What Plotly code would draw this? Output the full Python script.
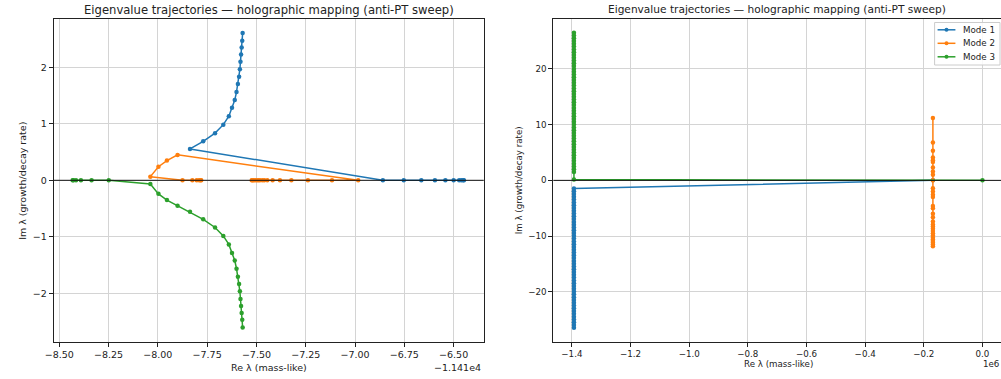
import plotly.graph_objects as go

# ---------------- data: left panel (Re shown relative to offset -1.141e4) ----------------
RE_OFFSET = -11410.0

mode1_re_left = [-6.448, -6.452, -6.461, -6.472, -6.500, -6.542, -6.595, -6.664, -6.753, -6.859,
                 -7.837, -7.770, -7.710, -7.668, -7.640, -7.624, -7.610, -7.601, -7.594, -7.588,
                 -7.584, -7.581, -7.578, -7.575, -7.572, -7.570]
mode1_im_left = [0, 0, 0, 0, 0, 0, 0, 0, 0, 0,
                 0.555, 0.69, 0.835, 0.985, 1.135, 1.285, 1.42, 1.565, 1.705, 1.835,
                 1.965, 2.10, 2.225, 2.35, 2.47, 2.605]

mode2_re_left = [-7.780, -7.784, -7.791, -7.803, -7.825, -7.875,
                 -8.038, -7.997, -7.954, -7.900,
                 -6.984, -7.117, -7.239, -7.323, -7.381, -7.418, -7.445, -7.460, -7.470, -7.482,
                 -7.490, -7.498, -7.507, -7.515, -7.520, -7.524]
mode2_im_left = [0, 0, 0, 0, 0, 0,
                 0.065, 0.24, 0.35, 0.45,
                 0, 0, 0, 0, 0, 0, 0, 0, 0, 0,
                 0, 0, 0, 0, 0, 0]

mode3_re_left = [-8.432, -8.428, -8.415, -8.390, -8.336, -8.249,
                 -8.038, -7.997, -7.954, -7.900,
                 -7.837, -7.770, -7.710, -7.668, -7.640, -7.624, -7.610, -7.601, -7.594, -7.588,
                 -7.584, -7.581, -7.578, -7.575, -7.572, -7.570]
mode3_im_left = [0, 0, 0, 0, 0, 0,
                 -0.065, -0.24, -0.35, -0.45,
                 -0.555, -0.69, -0.835, -0.985, -1.135, -1.285, -1.42, -1.565, -1.705, -1.835,
                 -1.965, -2.10, -2.225, -2.35, -2.47, -2.605]

left_xticks = [-8.50, -8.25, -8.00, -7.75, -7.50, -7.25, -7.00, -6.75, -6.50]
left_yticks = [-2, -1, 0, 1, 2]

# ---------------- data: right panel ----------------
mode1_re_right = [-0.169e6] + [-1.393e6] * 51
mode1_im_right = [0.0,
                  -1.45, -1.95, -2.45, -2.95, -3.45, -3.95, -4.45, -4.95, -5.45, -5.95,
                  -6.45, -6.95, -7.45, -7.95, -8.45, -8.95, -9.45, -9.95, -10.45, -10.95,
                  -11.45, -11.95, -12.45, -12.95, -13.45, -13.95, -14.45, -14.95, -15.45, -15.95,
                  -16.45, -16.95, -17.45, -17.95, -18.45, -18.95, -19.45, -19.95, -20.45, -20.95,
                  -21.45, -21.95, -22.45, -22.95, -23.45, -23.95, -24.45, -24.95, -25.45, -25.95,
                  -26.45]

mode2_re_right = [-0.169e6] * 31
mode2_im_right = [11.2, 6.8, 5.3, 4.1, 3.6, 3.3, 2.3, 1.6, 1.0, 0.0,
                  -1.4, -2.0, -2.6, -3.0, -4.6, -5.0, -6.0, -6.6, -7.4, -7.9,
                  -8.3, -8.7, -9.1, -9.5, -9.9, -10.3, -10.6, -10.9, -11.2, -11.5, -11.8]

mode3_re_right = [0.0, -1.393e6] + [-1.393e6] * 51
mode3_im_right = [0.0, 0.15,
                  1.5, 2.0, 2.5, 3.0, 3.5, 4.0, 4.5, 5.0, 5.5, 6.0,
                  6.5, 7.0, 7.5, 8.0, 8.5, 9.0, 9.5, 10.0, 10.5, 11.0,
                  11.5, 12.0, 12.5, 13.0, 13.5, 14.0, 14.5, 15.0, 15.5, 16.0,
                  16.5, 17.0, 17.5, 18.0, 18.5, 19.0, 19.5, 20.0, 20.5, 21.0,
                  21.5, 22.0, 22.5, 23.0, 23.5, 24.0, 24.5, 25.0, 25.5, 26.0,
                  26.5]

right_xticks = [-1.4e6, -1.2e6, -1.0e6, -0.8e6, -0.6e6, -0.4e6, -0.2e6, 0.0]
right_yticks = [-20, -10, 0, 10, 20]

mode_names = ["Mode 1", "Mode 2", "Mode 3"]
colors = ["#1f77b4", "#ff7f0e", "#2ca02c"]

# ---------------- figure ----------------
W, H = 1001, 379
FONT = "DejaVu Sans"


def px_x(p):
    return p / W


def px_y(p):
    return 1 - p / H


def fmt(v, nd):
    s = f"{abs(v):.{nd}f}"
    return ("\u2212" + s) if v < 0 else s


fig = go.Figure()

left_sets = [(mode1_re_left, mode1_im_left), (mode2_re_left, mode2_im_left), (mode3_re_left, mode3_im_left)]
for (re, im), c, nm in zip(left_sets, colors, mode_names):
    fig.add_trace(go.Scatter(x=[RE_OFFSET + v for v in re], y=im, mode="lines+markers",
                             line=dict(color=c, width=1.5), marker=dict(color=c, size=4.5),
                             name=nm, showlegend=False, xaxis="x", yaxis="y"))

right_sets = [(mode1_re_right, mode1_im_right), (mode2_re_right, mode2_im_right), (mode3_re_right, mode3_im_right)]
for (re, im), c, nm in zip(right_sets, colors, mode_names):
    fig.add_trace(go.Scatter(x=re, y=im, mode="lines+markers",
                             line=dict(color=c, width=1.5), marker=dict(color=c, size=4.5),
                             name=nm, showlegend=False, xaxis="x2", yaxis="y2"))

dom_y = [px_y(342), px_y(19)]
grid_c = "#d4d4d4"
axis_common = dict(showgrid=True, gridcolor=grid_c, gridwidth=1, zeroline=False,
                   showline=True, linecolor="#222", linewidth=1,
                   ticks="outside", ticklen=4, tickcolor="#222", tickwidth=1)

fig.update_layout(
    width=W, height=H, margin=dict(l=0, r=0, t=0, b=0),
    paper_bgcolor="white", plot_bgcolor="white", showlegend=False,
    font=dict(family=FONT, color="#222"),
    xaxis=dict(domain=[px_x(45), px_x(479)], anchor="y",
               range=[RE_OFFSET - 8.5286, RE_OFFSET - 6.3477],
               tickvals=[RE_OFFSET + v for v in left_xticks],
               ticktext=[fmt(v, 2) for v in left_xticks],
               tickfont=dict(size=9.5, family=FONT), mirror=True, **axis_common),
    yaxis=dict(domain=dom_y, anchor="x", range=[-2.862, 2.855],
               tickvals=left_yticks, ticktext=[fmt(v, 0) for v in left_yticks],
               tickfont=dict(size=9.5, family=FONT), mirror=True, **axis_common),
    xaxis2=dict(domain=[px_x(549.3), 1.0], anchor="y2",
                range=[-1.4632e6, 0.0632e6],
                tickvals=right_xticks, ticktext=[fmt(v / 1e6, 1) for v in right_xticks],
                tickfont=dict(size=8.7, family=FONT), mirror=True, **axis_common),
    yaxis2=dict(domain=dom_y, anchor="x2", range=[-29.0, 28.95],
                tickvals=right_yticks, ticktext=[fmt(v, 0) for v in right_yticks],
                tickfont=dict(size=8.7, family=FONT), mirror=False, **axis_common),
)

# zero lines drawn above the data (axhline)
for xr, yr in (("x domain", "y"), ("x2 domain", "y2")):
    fig.add_shape(type="line", xref=xr, yref=yr, x0=0, x1=1, y0=0, y1=0,
                  line=dict(color="#111", width=1), layer="above")

ann = []
title_txt = "Eigenvalue trajectories \u2014 holographic mapping (anti-PT sweep)"
ann.append(dict(text=title_txt, x=px_x(262), y=px_y(10), xref="paper", yref="paper",
                showarrow=False, font=dict(size=11.6, family=FONT, color="#222"),
                xanchor="center", yanchor="middle"))
ann.append(dict(text=title_txt, x=px_x(775), y=px_y(9.5), xref="paper", yref="paper",
                showarrow=False, font=dict(size=10.6, family=FONT, color="#222"),
                xanchor="center", yanchor="middle"))
ann.append(dict(text="Re \u03bb (mass-like)", x=px_x(262), y=px_y(367), xref="paper", yref="paper",
                showarrow=False, font=dict(size=9.5, family=FONT, color="#222"),
                xanchor="center", yanchor="middle"))
ann.append(dict(text="Re \u03bb (mass-like)", x=px_x(776), y=px_y(363.5), xref="paper", yref="paper",
                showarrow=False, font=dict(size=8.7, family=FONT, color="#222"),
                xanchor="center", yanchor="middle"))
ann.append(dict(text="Im \u03bb (growth/decay rate)", x=px_x(14), y=px_y(181), xref="paper", yref="paper",
                showarrow=False, textangle=-90, font=dict(size=9.5, family=FONT, color="#222"),
                xanchor="center", yanchor="middle"))
ann.append(dict(text="Im \u03bb (growth/decay rate)", x=px_x(515), y=px_y(180), xref="paper", yref="paper",
                showarrow=False, textangle=-90, font=dict(size=8.7, family=FONT, color="#222"),
                xanchor="center", yanchor="middle"))
ann.append(dict(text="\u22121.141e4", x=px_x(478), y=px_y(367), xref="paper", yref="paper",
                showarrow=False, font=dict(size=9.5, family=FONT, color="#222"),
                xanchor="right", yanchor="middle"))
ann.append(dict(text="1e6", x=1.0, y=px_y(363.5), xref="paper", yref="paper",
                showarrow=False, font=dict(size=8.7, family=FONT, color="#222"),
                xanchor="right", yanchor="middle"))

# manual legend (right panel)
lx0, lx1, ly0, ly1 = 934, 1000, 22.5, 65
fig.add_shape(type="rect", xref="paper", yref="paper", x0=px_x(lx0), x1=px_x(lx1),
              y0=px_y(ly1), y1=px_y(ly0), line=dict(color="#cccccc", width=1),
              fillcolor="rgba(255,255,255,0.85)", layer="above")
for i, (nm, c) in enumerate(zip(mode_names, colors)):
    yy = 29.8 + i * 13.5
    fig.add_shape(type="line", xref="paper", yref="paper", x0=px_x(937), x1=px_x(955),
                  y0=px_y(yy), y1=px_y(yy), line=dict(color=c, width=1.5), layer="above")
    fig.add_shape(type="circle", xref="paper", yref="paper", x0=px_x(944), x1=px_x(948),
                  y0=px_y(yy + 2), y1=px_y(yy - 2), line=dict(color=c, width=0),
                  fillcolor=c, layer="above")
    ann.append(dict(text=nm, x=px_x(961), y=px_y(yy), xref="paper", yref="paper",
                    showarrow=False, font=dict(size=8.7, family=FONT, color="#222"),
                    xanchor="left", yanchor="middle"))

fig.update_layout(annotations=ann)
fig.write_html("out.html")
